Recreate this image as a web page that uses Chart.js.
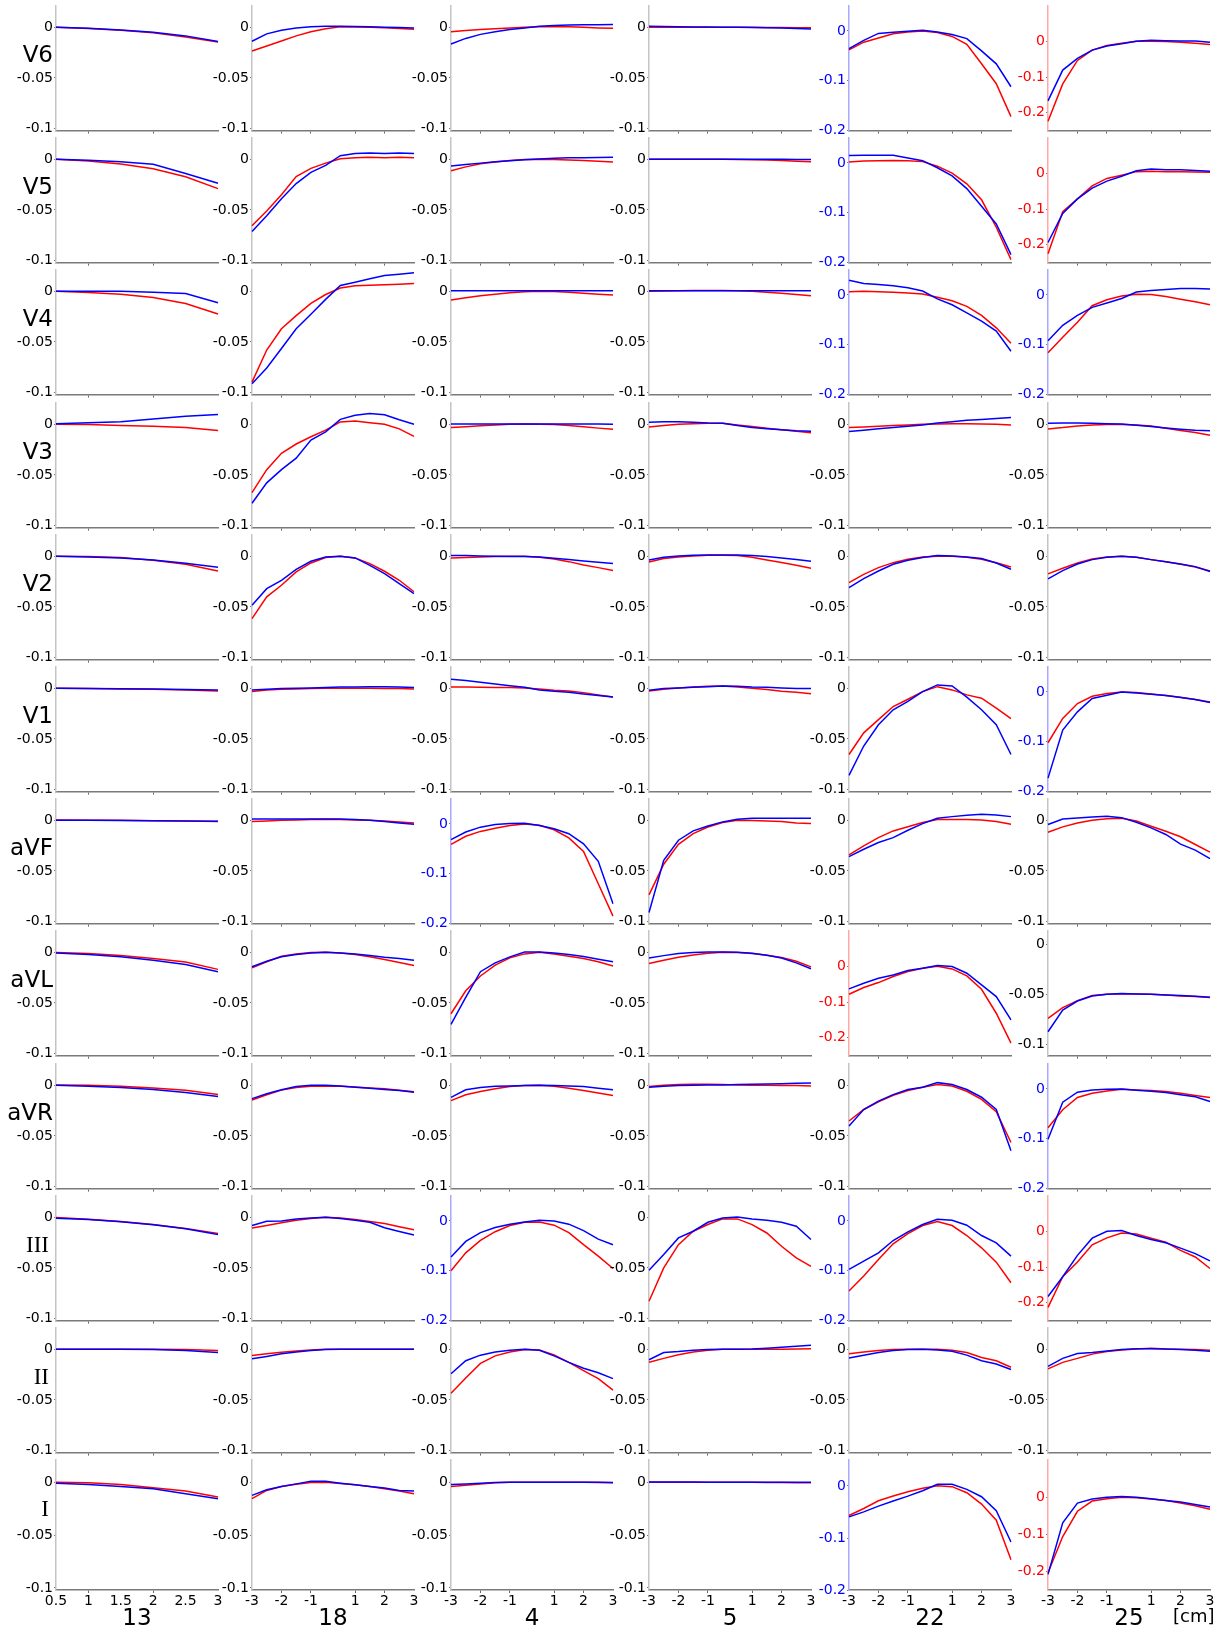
<!DOCTYPE html>
<html>
<head>
<meta charset="utf-8">
<script src="https://cdn.jsdelivr.net/npm/chart.js"></script>
<style>
  body { margin: 0; background: #fff; }
  #wrap { position: relative; width: 1225px; height: 1632px; overflow: hidden; }
  #wrap canvas { position: absolute; }
  .lbl { position: absolute; font-family: "DejaVu Sans", sans-serif; color: #000; white-space: nowrap; line-height: 1; }
</style>
</head>
<body>
<div id="wrap"></div>
<script>
const leads = ["V6", "V5", "V4", "V3", "V2", "V1", "aVF", "aVL", "aVR", "III", "II", "I"];
const cases = ["13", "18", "4", "5", "22", "25"];
const xLabels13 = ["0.5", "1", "1.5", "2", "2.5", "3"];
const xLabels = ["-3", "-2.5", "-2", "-1.5", "-1", "-0.5", "0.5", "1", "1.5", "2", "2.5", "3"];

// which y scale each cell uses (k = ±0.05 black, A = blue 0/-0.1/-0.2, B = red 0/-0.1/-0.2, C = shifted)
const scaleKinds = ["kkkkAB", "kkkkAB", "kkkkAA", "kkkkkk", "kkkkkk", "kkkkkA",
                    "kkAkkk", "kkkkBC", "kkkkkA", "kkAkAB", "kkkkkk", "kkkkAB"];

// one array per case column: 13, 18, 4, 5, 22, 25
const V6_blue = [
  [0, -0.001, -0.0028, -0.005, -0.0085, -0.014],
  [-0.0138, -0.0065, -0.003, -0.0008, 0.0005, 0.001, 0.001, 0.0008, 0.0005, 0, -0.0003, -0.0008],
  [-0.0165, -0.011, -0.007, -0.0045, -0.0022, -0.0006, 0.001, 0.0018, 0.0022, 0.0025, 0.0026, 0.0028],
  [0.001, 0.0008, 0.0005, 0.0003, 0.0002, 0, 0, -0.0002, -0.0005, -0.0008, -0.0012, -0.0016],
  [-0.0355, -0.019, -0.005, -0.0026, -0.0006, 0.0013, -0.002, -0.007, -0.0155, -0.04, -0.066, -0.112],
  [-0.1667, -0.08, -0.047, -0.024, -0.0126, -0.0063, 0.001, 0.0036, 0.0027, 0.002, 0.002, -0.002]
];
const V6_red = [
  [0, -0.0012, -0.003, -0.0055, -0.0095, -0.0145],
  [-0.0235, -0.0185, -0.0135, -0.0085, -0.0045, -0.0015, 0.0005, 0.0003, 0, -0.0005, -0.0012, -0.002],
  [-0.0045, -0.0032, -0.0022, -0.0014, -0.0006, 0, 0.0005, 0.0006, 0.0004, 0, -0.0006, -0.001],
  [0, 0, 0, 0, 0, 0, 0, 0, -0.0002, -0.0003, -0.0004, -0.0005],
  [-0.038, -0.0226, -0.0142, -0.0058, -0.002, 0, -0.003, -0.011, -0.027, -0.066, -0.106, -0.172],
  [-0.224, -0.119, -0.053, -0.024, -0.011, -0.0045, 0.001, 0.001, 0, -0.002, -0.0045, -0.008]
];
const V5_blue = [
  [0, -0.001, -0.0025, -0.005, -0.014, -0.0236],
  [-0.0714, -0.0557, -0.039, -0.024, -0.013, -0.006, 0.0035, 0.0057, 0.0063, 0.0057, 0.0063, 0.0057],
  [-0.0066, -0.0052, -0.0038, -0.0025, -0.0015, -0.0005, 0.0003, 0.001, 0.0014, 0.0016, 0.0018, 0.002],
  [0, 0, 0, 0, 0, 0, 0, 0, 0, -0.0001, -0.0002, -0.0003],
  [0.0148, 0.0155, 0.0155, 0.0155, 0.0097, 0.0045, -0.0097, -0.026, -0.0516, -0.087, -0.1226, -0.184],
  [-0.1936, -0.112, -0.071, -0.041, -0.021, -0.0073, 0.008, 0.0127, 0.011, 0.011, 0.009, 0.0064]
];
const V5_red = [
  [0, -0.0016, -0.0047, -0.0094, -0.0173, -0.029],
  [-0.0657, -0.051, -0.035, -0.017, -0.009, -0.0038, 0.0006, 0.0016, 0.002, 0.0016, 0.002, 0.0016],
  [-0.0113, -0.0075, -0.0045, -0.0028, -0.0013, -0.0003, 0, -0.0002, -0.0006, -0.0012, -0.002, -0.0028],
  [0, 0, 0, 0, 0, 0, -0.0002, -0.0004, -0.0008, -0.0013, -0.0019, -0.0025],
  [0.002, 0.004, 0.0045, 0.005, 0.0045, 0.0026, -0.0065, -0.0206, -0.042, -0.074, -0.129, -0.194],
  [-0.225, -0.107, -0.071, -0.0345, -0.0136, -0.0045, 0.0055, 0.0064, 0.0055, 0.0055, 0.0045, 0.0036]
];
const V4_blue = [
  [0, 0, 0, -0.001, -0.0023, -0.0114],
  [-0.0913, -0.0758, -0.0565, -0.037, -0.0226, -0.008, 0.0058, 0.009, 0.0123, 0.0155, 0.0168, 0.0184],
  [0.0004, 0.0004, 0.0004, 0.0004, 0.0004, 0.0004, 0.0004, 0.0004, 0.0004, 0.0004, 0.0004, 0.0004],
  [0.0005, 0.0005, 0.0005, 0.0005, 0.0005, 0.0005, 0.0005, 0.0005, 0.0005, 0.0005, 0.0005, 0.0005],
  [0.0296, 0.023, 0.021, 0.0184, 0.0145, 0.0079, -0.0079, -0.0197, -0.036, -0.0526, -0.0724, -0.113],
  [-0.092, -0.061, -0.041, -0.025, -0.0163, -0.0072, 0.0059, 0.009, 0.011, 0.013, 0.013, 0.0118]
];
const V4_red = [
  [0, -0.0013, -0.003, -0.0062, -0.012, -0.0224],
  [-0.0897, -0.058, -0.037, -0.024, -0.012, -0.0032, 0.0032, 0.0055, 0.006, 0.0065, 0.007, 0.0077],
  [-0.0087, -0.0065, -0.0045, -0.003, -0.0015, -0.0005, 0, -0.0003, -0.001, -0.002, -0.003, -0.0038],
  [0, 0.0003, 0.0006, 0.0008, 0.0008, 0.0008, 0.0005, 0, -0.001, -0.002, -0.0032, -0.0045],
  [0.0066, 0.0072, 0.0066, 0.0053, 0.004, 0.002, -0.0046, -0.0118, -0.023, -0.041, -0.066, -0.097],
  [-0.116, -0.085, -0.055, -0.0216, -0.0098, -0.002, 0.0013, 0.0007, -0.0033, -0.0085, -0.0137, -0.0196]
];
const V3_blue = [
  [0.0006, 0.0016, 0.0026, 0.0052, 0.0078, 0.0097],
  [-0.078, -0.0578, -0.0448, -0.0334, -0.0156, -0.0075, 0.0049, 0.0088, 0.0107, 0.0094, 0.0045, 0],
  [0.0003, 0.0003, 0.0003, 0.0003, 0.0003, 0.0003, 0.0003, 0.0003, 0.0003, 0.0003, 0.0003, 0],
  [0.002, 0.0026, 0.0026, 0.002, 0.0013, 0.001, -0.0013, -0.0032, -0.0045, -0.0055, -0.0065, -0.0068],
  [-0.0071, -0.0058, -0.0045, -0.0032, -0.002, -0.0006, 0.0013, 0.0026, 0.0039, 0.0048, 0.0058, 0.0068],
  [0.001, 0.0013, 0.0013, 0.001, 0.0006, 0.0003, -0.001, -0.0023, -0.0036, -0.0049, -0.0059, -0.0065]
];
const V3_red = [
  [0, -0.0003, -0.0013, -0.002, -0.0032, -0.0062],
  [-0.0675, -0.0448, -0.0286, -0.0195, -0.0123, -0.0058, 0.0023, 0.0032, 0.0016, 0, -0.0045, -0.012],
  [-0.0033, -0.0025, -0.0015, -0.0006, 0, 0.0002, 0, -0.0003, -0.0013, -0.0025, -0.0038, -0.005],
  [-0.0026, -0.0013, 0, 0.0006, 0.001, 0.001, -0.0006, -0.0023, -0.0039, -0.0055, -0.0068, -0.0084],
  [-0.0032, -0.0026, -0.002, -0.0013, -0.0006, 0, 0.0003, 0.0006, 0.0006, 0.0003, 0, -0.0006],
  [-0.0046, -0.0033, -0.0016, -0.0006, -0.0003, -0.0003, -0.0006, -0.0016, -0.0039, -0.0062, -0.0081, -0.0108]
];
const V2_blue = [
  [0, -0.0007, -0.0016, -0.0036, -0.0069, -0.0109],
  [-0.0484, -0.032, -0.0237, -0.013, -0.0049, -0.0007, 0, -0.0016, -0.0089, -0.0171, -0.027, -0.0368],
  [0.0007, 0.0007, 0.0003, 0, -0.0003, -0.0003, -0.0007, -0.002, -0.0033, -0.0046, -0.0059, -0.0072],
  [-0.0036, -0.001, 0.0003, 0.001, 0.0013, 0.0013, 0.0013, 0.0007, -0.0003, -0.0016, -0.0033, -0.005],
  [-0.031, -0.022, -0.0145, -0.0079, -0.004, -0.0013, 0.0007, 0.0003, -0.0007, -0.0023, -0.0066, -0.0128],
  [-0.0224, -0.0141, -0.0076, -0.0033, -0.001, 0, -0.001, -0.0033, -0.0053, -0.0076, -0.0102, -0.0151]
];
const V2_red = [
  [0, -0.0003, -0.0013, -0.004, -0.0079, -0.0145],
  [-0.0615, -0.04, -0.0286, -0.0155, -0.0066, -0.0013, 0, -0.0016, -0.0072, -0.0148, -0.0237, -0.035],
  [-0.0016, -0.0013, -0.0007, -0.0003, 0, 0, -0.001, -0.0026, -0.0053, -0.0086, -0.0112, -0.014],
  [-0.0056, -0.0023, -0.0007, 0.0003, 0.001, 0.001, 0.0007, -0.001, -0.0036, -0.0062, -0.0089, -0.0118],
  [-0.026, -0.0178, -0.0112, -0.0063, -0.003, -0.0007, 0, 0, -0.001, -0.003, -0.0063, -0.0105],
  [-0.0174, -0.0118, -0.0066, -0.0026, -0.0007, 0, -0.001, -0.0033, -0.0053, -0.0079, -0.0105, -0.0145]
];
const V1_blue = [
  [0, -0.0002, -0.0004, -0.0007, -0.0011, -0.0016],
  [-0.0016, -0.001, -0.0003, 0, 0.0003, 0.0007, 0.0013, 0.0013, 0.0016, 0.0016, 0.0013, 0.0007],
  [0.0089, 0.0076, 0.0059, 0.0043, 0.0026, 0.001, -0.0016, -0.003, -0.004, -0.0056, -0.0072, -0.0086],
  [-0.002, -0.0003, 0.0003, 0.001, 0.0016, 0.0023, 0.002, 0.0013, 0.001, 0.0003, -0.0003, -0.0003],
  [-0.086, -0.057, -0.036, -0.0212, -0.013, -0.0033, 0.0033, 0.0023, -0.0088, -0.0212, -0.036, -0.0654],
  [-0.173, -0.0767, -0.04, -0.0133, -0.0067, 0, -0.002, -0.0047, -0.0073, -0.0113, -0.0153, -0.0213]
];
const V1_red = [
  [0, -0.0003, -0.0006, -0.001, -0.0016, -0.0026],
  [-0.0033, -0.0016, -0.001, -0.0007, -0.0003, 0, 0, 0, 0, -0.0003, -0.0003, -0.0007],
  [0.0013, 0.0013, 0.001, 0.0007, 0.0007, 0.0003, -0.0007, -0.002, -0.0026, -0.0043, -0.0066, -0.0086],
  [-0.0026, -0.001, 0.0003, 0.0013, 0.002, 0.0023, 0.0013, 0, -0.0013, -0.003, -0.004, -0.0053],
  [-0.0654, -0.044, -0.031, -0.018, -0.0108, -0.0033, 0.0016, -0.0016, -0.0065, -0.0098, -0.0196, -0.03],
  [-0.102, -0.0533, -0.0233, -0.0087, -0.0033, 0, -0.0013, -0.004, -0.0073, -0.0107, -0.0153, -0.02]
];
const aVF_blue = [
  [0, -0.0001, -0.0002, -0.0004, -0.0007, -0.001],
  [0.0013, 0.0013, 0.0013, 0.0013, 0.0013, 0.0013, 0.0013, 0.0007, 0, -0.0013, -0.0026, -0.004],
  [-0.0314, -0.0163, -0.0065, -0.0013, 0.0007, 0.0013, -0.0033, -0.0098, -0.0196, -0.04, -0.075, -0.16],
  [-0.091, -0.0395, -0.0197, -0.0105, -0.0056, -0.0016, 0.001, 0.002, 0.002, 0.002, 0.002, 0.002],
  [-0.0359, -0.0286, -0.022, -0.0171, -0.0099, -0.0033, 0.002, 0.0036, 0.0049, 0.0059, 0.0053, 0.0036],
  [-0.0042, 0.0013, 0.0023, 0.0033, 0.0039, 0.0026, -0.002, -0.0075, -0.014, -0.0235, -0.0294, -0.0379]
];
const aVF_red = [
  [0.0002, 0.0001, 0, -0.0004, -0.0008, -0.0012],
  [-0.0013, -0.0007, 0, 0.0003, 0.0007, 0.001, 0.0007, 0.0003, 0, -0.0007, -0.0016, -0.0026],
  [-0.041, -0.0248, -0.015, -0.0085, -0.0033, 0, -0.0026, -0.0118, -0.028, -0.055, -0.12, -0.185],
  [-0.0737, -0.0434, -0.0237, -0.0132, -0.0066, -0.0023, 0, -0.0003, -0.0007, -0.0013, -0.0026, -0.0033],
  [-0.0342, -0.0253, -0.0171, -0.0105, -0.0063, -0.0023, 0.0007, 0.0007, 0.0007, 0.0003, -0.0013, -0.004],
  [-0.0118, -0.0065, -0.0026, 0, 0.0016, 0.002, -0.0007, -0.0059, -0.0108, -0.0163, -0.0239, -0.0314]
];
const aVL_blue = [
  [-0.0006, -0.0023, -0.0045, -0.0078, -0.012, -0.0192],
  [-0.0143, -0.0088, -0.0045, -0.0023, -0.0006, 0, -0.0006, -0.0016, -0.0032, -0.0049, -0.0062, -0.0078],
  [-0.0711, -0.0445, -0.0192, -0.0104, -0.0045, 0.0003, 0.0003, -0.0006, -0.0023, -0.0042, -0.0068, -0.0094],
  [-0.0056, -0.0033, -0.0013, -0.0003, 0.0003, 0.0003, 0, -0.001, -0.003, -0.0056, -0.0105, -0.0163],
  [-0.0626, -0.0467, -0.0327, -0.0234, -0.0112, -0.0047, 0.0028, 0, -0.0187, -0.0514, -0.0841, -0.1495],
  [-0.0873, -0.0657, -0.0567, -0.0517, -0.05, -0.0493, -0.0497, -0.05, -0.0507, -0.0513, -0.052, -0.053]
];
const aVL_red = [
  [-0.0003, -0.0013, -0.0032, -0.0062, -0.0097, -0.0169],
  [-0.0153, -0.0094, -0.0039, -0.0016, -0.0003, 0, -0.0006, -0.0023, -0.0045, -0.0071, -0.01, -0.013],
  [-0.0607, -0.038, -0.0234, -0.0127, -0.0055, -0.0016, 0, -0.0016, -0.0039, -0.0062, -0.0094, -0.0136],
  [-0.0111, -0.0078, -0.0049, -0.0026, -0.001, 0, -0.0003, -0.0013, -0.003, -0.0052, -0.0088, -0.0144],
  [-0.0776, -0.0589, -0.0449, -0.028, -0.014, -0.0047, 0.001, -0.0065, -0.0262, -0.0636, -0.131, -0.215],
  [-0.074, -0.0633, -0.0563, -0.0513, -0.05, -0.0497, -0.0497, -0.05, -0.0507, -0.0517, -0.0523, -0.0533]
];
const aVR_blue = [
  [0, -0.001, -0.0023, -0.0042, -0.0071, -0.011],
  [-0.0132, -0.0084, -0.0045, -0.0013, 0, 0, -0.0006, -0.0019, -0.0029, -0.0042, -0.0052, -0.0068],
  [-0.0119, -0.0045, -0.0023, -0.001, -0.0006, -0.0003, 0, -0.0003, -0.0006, -0.0013, -0.0029, -0.0045],
  [-0.002, -0.001, -0.0003, 0, 0.0003, 0.0003, 0.0007, 0.001, 0.0013, 0.0016, 0.002, 0.0023],
  [-0.0402, -0.0239, -0.0157, -0.0092, -0.0042, -0.002, 0.0026, 0.0007, -0.0042, -0.0118, -0.0239, -0.0647],
  [-0.101, -0.0265, -0.0066, -0.002, -0.0007, 0, -0.0026, -0.0046, -0.0073, -0.0119, -0.0159, -0.0252]
];
const aVR_red = [
  [0.0003, 0, -0.001, -0.0026, -0.0048, -0.009],
  [-0.0145, -0.0094, -0.0048, -0.0023, -0.001, -0.0006, -0.001, -0.0016, -0.0026, -0.0035, -0.0048, -0.0065],
  [-0.0152, -0.0094, -0.0061, -0.0035, -0.0013, -0.0003, 0, -0.001, -0.0029, -0.0052, -0.0077, -0.01],
  [-0.0013, 0, 0.0007, 0.001, 0.001, 0.0007, 0.0003, 0, 0, -0.0003, -0.0003, -0.0007],
  [-0.0353, -0.0239, -0.0163, -0.0098, -0.0052, -0.002, 0.0007, -0.0007, -0.0059, -0.014, -0.0261, -0.0565],
  [-0.078, -0.0417, -0.0172, -0.0086, -0.004, -0.0007, -0.002, -0.0033, -0.0053, -0.0086, -0.0132, -0.0172]
];
const III_blue = [
  [-0.001, -0.0023, -0.0045, -0.0075, -0.0114, -0.0169],
  [-0.0081, -0.0039, -0.0036, -0.0016, -0.0006, 0, -0.0013, -0.0029, -0.0049, -0.0104, -0.014, -0.0175],
  [-0.0725, -0.0412, -0.0235, -0.0131, -0.0065, -0.002, 0.0013, 0, -0.0065, -0.0196, -0.0366, -0.0477],
  [-0.0523, -0.0368, -0.0204, -0.0138, -0.0049, -0.0007, 0.0003, -0.0016, -0.003, -0.0049, -0.0089, -0.022],
  [-0.0973, -0.0807, -0.064, -0.0393, -0.022, -0.0073, 0.0033, 0.0013, -0.0087, -0.0293, -0.044, -0.0707],
  [-0.1824, -0.1269, -0.0667, -0.0185, 0.0009, 0.0028, -0.0111, -0.0222, -0.0315, -0.0463, -0.062, -0.0824]
];
const III_red = [
  [-0.0003, -0.002, -0.0042, -0.0072, -0.0111, -0.0159],
  [-0.0107, -0.0081, -0.0055, -0.0029, -0.0013, 0, -0.0006, -0.0023, -0.0042, -0.0062, -0.0094, -0.0123],
  [-0.1, -0.064, -0.0392, -0.0216, -0.0092, -0.0026, -0.002, -0.0085, -0.0235, -0.0477, -0.0706, -0.0954],
  [-0.0829, -0.05, -0.027, -0.0138, -0.0072, -0.0016, -0.0016, -0.0072, -0.0155, -0.0286, -0.0401, -0.0484],
  [-0.1407, -0.1107, -0.0773, -0.046, -0.0253, -0.0093, -0.0013, -0.0093, -0.0293, -0.054, -0.0827, -0.124],
  [-0.213, -0.1269, -0.0852, -0.037, -0.0176, -0.0037, -0.0065, -0.0185, -0.0296, -0.0528, -0.0713, -0.1037]
];
const II_blue = [
  [0, 0, 0, -0.0003, -0.0013, -0.0032],
  [-0.0094, -0.0071, -0.0045, -0.0026, -0.0013, -0.0003, 0, 0, 0, 0, 0, 0],
  [-0.0242, -0.0113, -0.0058, -0.0026, -0.001, 0, -0.001, -0.0065, -0.0129, -0.0187, -0.0232, -0.029],
  [-0.0103, -0.0032, -0.0023, -0.001, -0.0003, 0, 0, 0.0003, 0.001, 0.0019, 0.0029, 0.0039],
  [-0.0087, -0.0058, -0.0032, -0.0013, -0.0003, 0, -0.0006, -0.0019, -0.0058, -0.0113, -0.0145, -0.02],
  [-0.0168, -0.009, -0.0042, -0.0032, -0.0016, -0.0003, 0.0006, 0.0006, 0.0003, -0.0003, -0.001, -0.0019]
];
const II_red = [
  [0, 0, 0, 0, -0.0003, -0.0013],
  [-0.0061, -0.0045, -0.0029, -0.0016, -0.0006, 0, 0, 0, 0, 0, 0, 0],
  [-0.0435, -0.0284, -0.0139, -0.0065, -0.0026, -0.0003, -0.0006, -0.0055, -0.0129, -0.021, -0.029, -0.0403],
  [-0.0129, -0.009, -0.0055, -0.0026, -0.001, 0, 0, 0, 0, 0, 0.0003, 0.0006],
  [-0.0045, -0.0026, -0.0013, -0.0003, 0, 0, 0, -0.001, -0.0032, -0.0081, -0.0113, -0.0177],
  [-0.0194, -0.0129, -0.009, -0.0048, -0.0023, -0.0006, 0.0003, 0.001, 0.0003, 0, -0.0003, -0.001]
];
const I_blue = [
  [-0.0009, -0.0022, -0.0041, -0.0063, -0.011, -0.0156],
  [-0.0125, -0.0072, -0.0041, -0.0016, 0.0009, 0.0009, -0.0009, -0.0025, -0.0041, -0.0056, -0.0078, -0.0084],
  [-0.0022, -0.0016, -0.001, -0.0003, 0, 0, 0, 0, 0, 0, 0, -0.0003],
  [0.0003, 0.0003, 0.0002, 0.0001, 0, 0, 0, 0, 0, 0, 0, 0],
  [-0.0594, -0.0497, -0.0387, -0.029, -0.0194, -0.009, 0.0032, 0.0032, -0.0065, -0.0206, -0.0477, -0.1077],
  [-0.208, -0.069, -0.0159, -0.0053, 0, 0.0018, 0, -0.0044, -0.0088, -0.0133, -0.0195, -0.0265]
];
const I_red = [
  [0, -0.0006, -0.0022, -0.0053, -0.0084, -0.014],
  [-0.0156, -0.0078, -0.0041, -0.0019, -0.0003, 0, -0.0013, -0.0025, -0.0041, -0.0063, -0.0084, -0.011],
  [-0.004, -0.0028, -0.0016, -0.0006, 0, 0, 0, 0, 0, 0, -0.0003, -0.0006],
  [0, 0, 0, 0, 0, 0, 0, 0, -0.0002, -0.0003, -0.0005, -0.0006],
  [-0.0568, -0.0432, -0.0284, -0.0194, -0.011, -0.0045, 0.0006, -0.0013, -0.0129, -0.0348, -0.0658, -0.1419],
  [-0.2035, -0.106, -0.038, -0.0106, -0.0044, 0, -0.0018, -0.0053, -0.0088, -0.0159, -0.023, -0.0327]
];

const blueRows = [V6_blue, V5_blue, V4_blue, V3_blue, V2_blue, V1_blue, aVF_blue, aVL_blue, aVR_blue, III_blue, II_blue, I_blue];
const redRows = [V6_red, V5_red, V4_red, V3_red, V2_red, V1_red, aVF_red, aVL_red, aVR_red, III_red, II_red, I_red];

const yScales = {
  k: { min: -0.102, max: 0.021, ticks: [0, -0.05, -0.1], color: "#000", axis: "#c4c4c4" },
  A: { min: -0.2, max: 0.05, ticks: [0, -0.1, -0.2], color: "#0000ff", axis: "#a8a8ff" },
  B: { min: -0.25, max: 0.1, ticks: [0, -0.1, -0.2], color: "#ff0000", axis: "#ffa8a8" },
  C: { min: -0.111, max: 0.013, ticks: [0, -0.05, -0.1], color: "#000", axis: "#c4c4c4" }
};

// layout (px)
const colX = [56, 252, 451, 649, 849, 1048];
const plotW = 162, plotH = 130;
const rowTop = r => Math.round(6 + r * 132.2);
const padL = 50, padT = 10, padR = 8;
const font = "'DejaVu Sans', sans-serif";
const tickSize = 14;

const wrap = document.getElementById("wrap");

function isWhole(s) { return Number.isInteger(parseFloat(s)); }

leads.forEach((lead, r) => {
  const bottom = r === leads.length - 1;
  const xh = bottom ? 22 : 4;
  cases.forEach((cs, c) => {
    const kind = yScales[scaleKinds[r][c]];
    const labels = c === 0 ? xLabels13 : xLabels;
    const cv = document.createElement("canvas");
    const w = padL + plotW + padR, h = padT + plotH + xh;
    cv.width = w; cv.height = h;
    cv.style.left = (colX[c] - padL) + "px";
    cv.style.top = (rowTop(r) - padT) + "px";
    cv.style.width = w + "px"; cv.style.height = h + "px";
    wrap.appendChild(cv);

    new Chart(cv, {
      type: "line",
      data: {
        labels: labels,
        datasets: [
          { data: blueRows[r][c], borderColor: "#0000ff", borderWidth: 1.5, pointRadius: 0, tension: 0, fill: false },
          { data: redRows[r][c], borderColor: "#ff0000", borderWidth: 1.5, pointRadius: 0, tension: 0, fill: false }
        ]
      },
      options: {
        responsive: false,
        animation: false,
        events: [],
        devicePixelRatio: 1,
        layout: { padding: { left: 0, top: padT, right: padR, bottom: 0 } },
        plugins: { legend: { display: false }, tooltip: { enabled: false } },
        scales: {
          x: {
            type: "category",
            offset: false,
            afterFit: s => { s.height = xh; },
            border: { display: true, color: "#7a7a7a", width: 1.5 },
            grid: {
              drawOnChartArea: false,
              drawTicks: true,
              tickLength: 3,
              color: ctx => {
                const i = ctx.index;
                return (i > 0 && i < labels.length - 1 && isWhole(labels[i])) ? "#666" : "rgba(0,0,0,0)";
              }
            },
            ticks: {
              display: bottom,
              autoSkip: false,
              maxRotation: 0,
              padding: 0,
              color: "#000",
              font: { family: font, size: tickSize },
              callback: (v, i) => (c === 0 || isWhole(labels[i])) ? labels[i] : ""
            }
          },
          y: {
            type: "linear",
            min: kind.min,
            max: kind.max,
            afterFit: s => { s.width = padL; },
            afterBuildTicks: s => { s.ticks = kind.ticks.map(v => ({ value: v })); },
            border: { display: true, color: kind.axis, width: 1.5 },
            grid: { drawOnChartArea: false, drawTicks: true, tickLength: 2, color: "#777" },
            ticks: {
              padding: 1,
              color: kind.color,
              font: { family: font, size: tickSize },
              callback: v => v === 0 ? "0" : String(+v.toFixed(3))
            }
          }
        }
      }
    });
  });

  // lead name on the left
  const serif = /^I+$/.test(lead);
  const d = document.createElement("div");
  d.className = "lbl";
  d.textContent = lead;
  d.style.fontSize = "23px";
  if (serif) d.style.fontFamily = "'Liberation Serif', serif";
  d.style.right = (1225 - (serif ? 49 : 53)) + "px";
  d.style.top = (rowTop(r) + 48 - 11) + "px";
  wrap.appendChild(d);
});

// case numbers under the columns
cases.forEach((cs, c) => {
  const d = document.createElement("div");
  d.className = "lbl";
  d.textContent = cs;
  d.style.fontSize = "23px";
  d.style.width = plotW + "px";
  d.style.textAlign = "center";
  d.style.left = colX[c] + "px";
  d.style.top = "1606px";
  wrap.appendChild(d);
});

const unit = document.createElement("div");
unit.className = "lbl";
unit.textContent = "[cm]";
unit.style.fontSize = "18px";
unit.style.left = "1173px";
unit.style.top = "1607px";
wrap.appendChild(unit);
</script>
</body>
</html>
